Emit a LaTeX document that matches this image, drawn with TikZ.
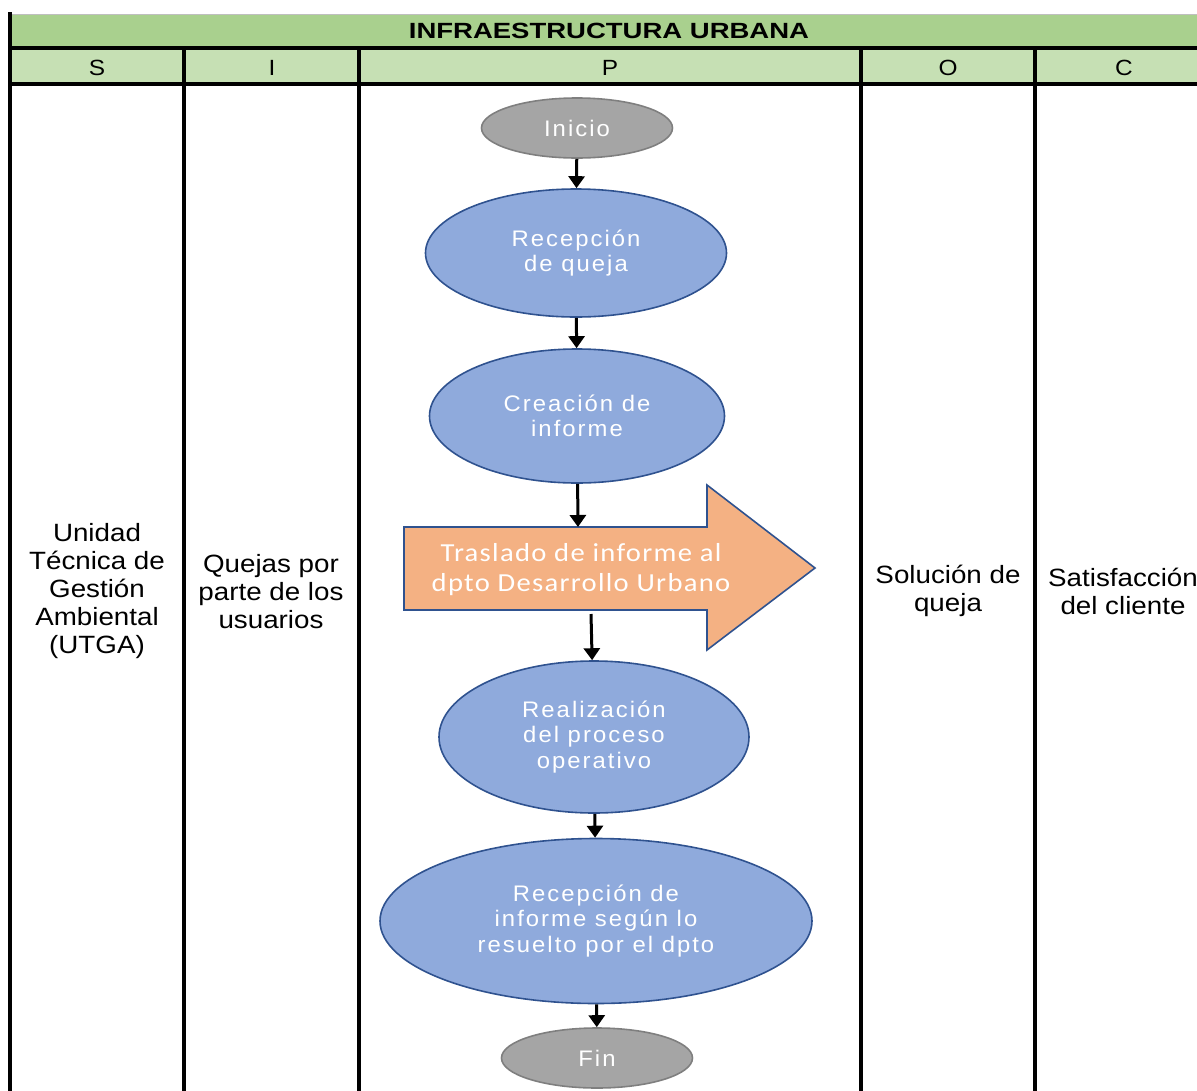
\documentclass[tikz,border=0pt]{standalone}
\usepackage{fontspec}
\setmainfont{Liberation Sans}
\newfontfamily\cellfont[FakeStretch=1.11]{Liberation Sans}
\newfontfamily\titlefont[FakeStretch=1.25]{Liberation Sans}
\newfontfamily\shapefont[FakeStretch=1.06,LetterSpace=9]{Liberation Sans}
\newfontfamily\arrowfont[FakeStretch=1.1,LetterSpace=5]{Carlito}
\usetikzlibrary{shapes.geometric,arrows.meta}

\definecolor{hdrA}{HTML}{A9D08E}
\definecolor{hdrB}{HTML}{C6E0B4}
\definecolor{ellfill}{HTML}{8FAADC}
\definecolor{ellline}{HTML}{2F528F}
\definecolor{termfill}{HTML}{A5A5A5}
\definecolor{termline}{HTML}{7F7F7F}
\definecolor{orangefill}{HTML}{F4B183}

\tikzset{
  grid/.style={line width=4pt, black},
  proc/.style={ellipse, draw=ellline, line width=1.6pt, fill=ellfill, text=white,
    font=\shapefont\fontsize{22.5}{25.5}\selectfont, align=center, inner sep=0pt},
  term/.style={ellipse, draw=termline, line width=1.6pt, fill=termfill, text=white,
    font=\shapefont\fontsize{22.5}{25.5}\selectfont, inner sep=0pt},
  conn/.style={line width=3pt, -{Triangle[width=16pt,length=12pt]}},
  cell/.style={align=center, font=\cellfont\fontsize{25}{28}\selectfont, inner sep=0pt},
  colhead/.style={font=\cellfont\fontsize{22}{24}\selectfont, inner sep=0pt},
}

\begin{document}
\begin{tikzpicture}[x=1pt,y=-1pt]
  \useasboundingbox (0,0) rectangle (1197,1090);
  \clip (0,0) rectangle (1197,1090);

  % header rows
  \fill[hdrA] (10,14) rectangle (1220,48);
  \fill[hdrB] (10,48) rectangle (1220,84);
  \draw[gray!50, line width=1pt] (10,14) -- (1220,14);
  \draw[grid] (10,48) -- (1220,48);
  \draw[grid] (10,84) -- (1220,84);
  \draw[grid] (10,12) -- (10,1100);
  \foreach \cx in {184,359,861,1035} {
    \draw[grid] (\cx,48) -- (\cx,1100);
  }

  \node[font=\titlefont\bfseries\fontsize{22}{24}\selectfont, inner sep=0pt] (title) at (609,31) {INFRAESTRUCTURA URBANA};
  \node[colhead] (hS) at (97,68) {S};
  \node[colhead] (hI) at (272,68) {I};
  \node[colhead] (hP) at (610,68) {P};
  \node[colhead] (hO) at (948,68) {O};
  \node[colhead] (hC) at (1124,68) {C};

  % column contents
  \node[cell] (sup) at (97,591) {Unidad\\Técnica de\\Gestión\\Ambiental\\(UTGA)};
  \node[cell] (inp) at (271,592) {Quejas por\\parte de los\\usuarios};
  \node[cell] (out) at (948,591) {Solución de\\queja};
  \node[cell] (cli) at (1123,591) {Satisfacción\\del cliente};

  % process flow
  \node[term, minimum width=191pt, minimum height=60pt] (ini) at (577,128) {Inicio};
  \node[proc, minimum width=301pt, minimum height=128pt] (rq) at (576,253) {Recepción\\de queja};
  \node[proc, minimum width=295pt, minimum height=134pt] (ci) at (577,416) {Creación de\\informe};

  \draw[draw=ellline, line width=1.6pt, fill=orangefill]
    (404,527) -- (707,527) -- (707,485) -- (815,568) -- (707,650) -- (707,610) -- (404,610) -- cycle;
  \node[align=center, text=white, inner sep=0pt, font=\arrowfont\fontsize{26}{30}\selectfont] (tras) at (581,570)
    {Traslado de informe al\\dpto Desarrollo Urbano};
  \coordinate (trasN) at (578,527);
  \coordinate (trasS) at (591,614);

  \node[proc, minimum width=310pt, minimum height=152pt] (real) at (594,737) {Realización\\del proceso\\operativo};
  \node[proc, minimum width=432pt, minimum height=165pt] (rinf) at (596,921) {Recepción de\\informe según lo\\resuelto por el dpto};
  \node[term, minimum width=191pt, minimum height=60pt] (fin) at (597,1058) {Fin};

  \draw[conn] (ini) -- (rq);
  \draw[conn] (rq) -- (ci);
  \draw[conn] (ci) -- (trasN);
  \draw[conn] (trasS) -- (real);
  \draw[conn] (real) -- (rinf);
  \draw[conn] (rinf) -- (fin);
\end{tikzpicture}
\end{document}
